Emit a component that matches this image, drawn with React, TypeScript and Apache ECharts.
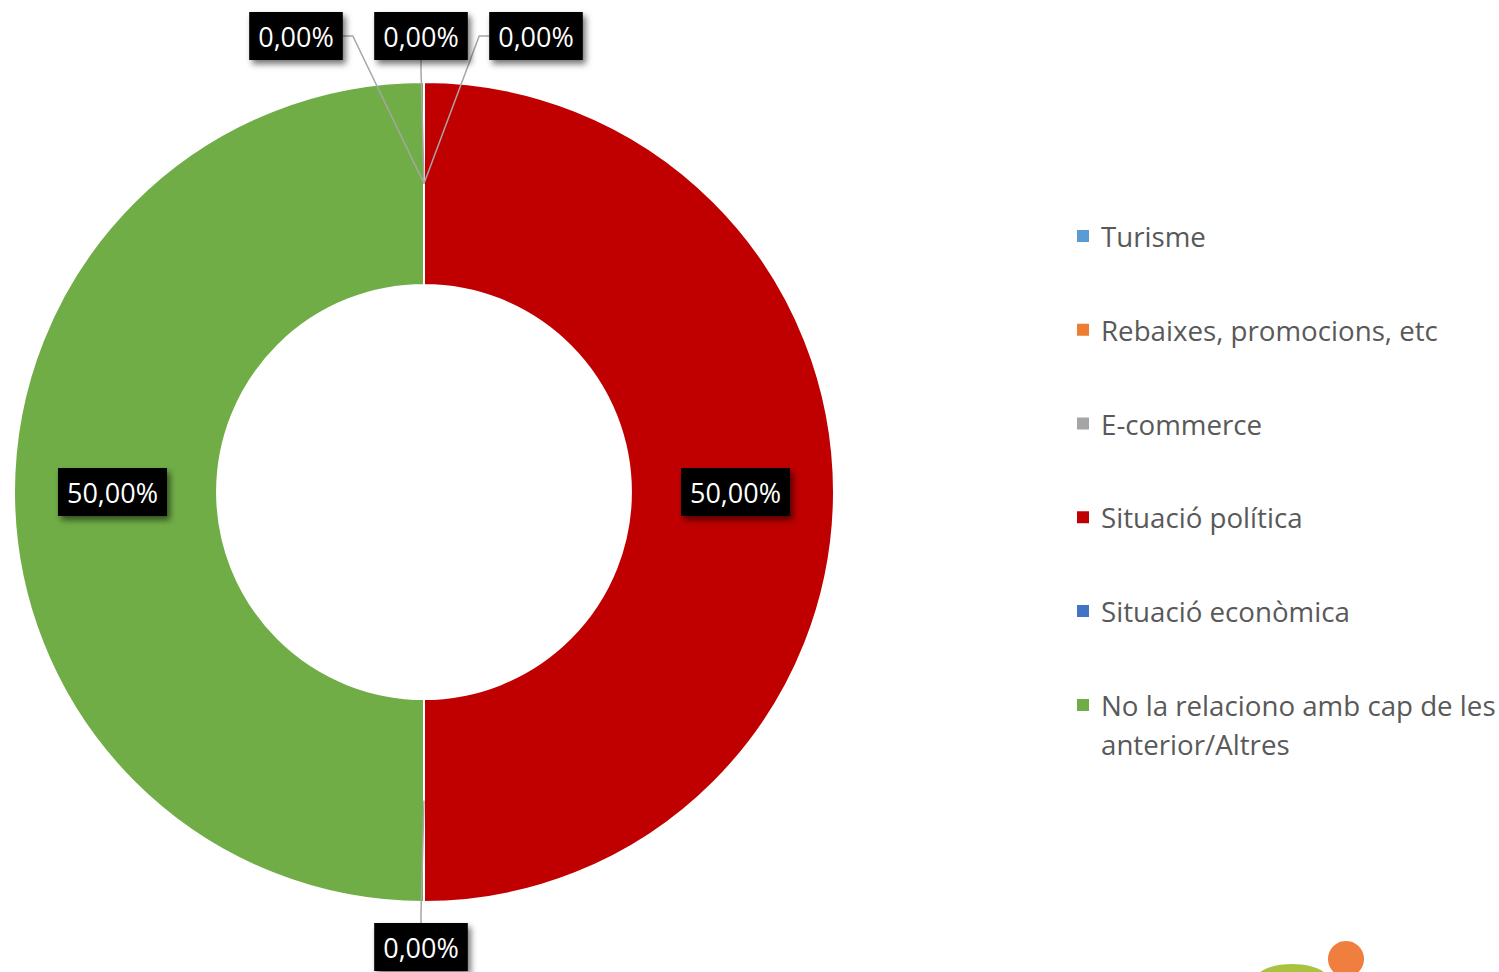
import React, { useEffect, useRef } from 'react';
import * as echarts from 'echarts';

const categories = [
  'Turisme',
  'Rebaixes, promocions, etc',
  'E-commerce',
  'Situació política',
  'Situació econòmica',
  'No la relaciono amb cap de les anterior/Altres',
];
const values = [0, 0, 0, 50, 0, 50];
const colors = ['#5B9BD5', '#ED7D31', '#A5A5A5', '#C00000', '#4472C4', '#70AD47'];
// where the callout boxes of the zero-value slices sit, relative to the pie centre
const calloutOffsets: (number[] | null)[] = [[-3, -456], [-128, -456], [112, -456], null, [-3, 455], null];
const lastLegendText = 'No la relaciono amb cap de les\nanterior/Altres';

const CX = 424;
const CY = 492;
const R_IN = 207;
const R_OUT = 410;
const R_MID = (R_IN + R_OUT) / 2;

const pctFormatter = (p: any) => p.percent.toFixed(2).replace('.', ',') + '%';

const boxLabel = {
  color: '#ffffff',
  fontFamily: 'Open Sans',
  fontSize: 27,
  lineHeight: 34,
  backgroundColor: '#000000',
  padding: [7, 9, 7, 9],
  shadowColor: 'rgba(0,0,0,0.55)',
  shadowBlur: 6,
  shadowOffsetX: 3,
  shadowOffsetY: 4,
};

const legendText = {
  fontFamily: 'Open Sans',
  fontSize: 27.7,
  color: '#595959',
  padding: [0, 0, 0, 7],
};

export default function App() {
  const ref = useRef<HTMLDivElement>(null);
  useEffect(() => {
    if (!ref.current) return;
    const chart = echarts.init(ref.current, undefined, { renderer: 'svg' });
    chart.setOption({
      animation: false,
      backgroundColor: '#ffffff',
      legend: [
        {
          orient: 'vertical',
          left: 1077,
          top: 218,
          padding: 0,
          itemGap: 57.75,
          itemWidth: 12,
          itemHeight: 12,
          icon: 'rect',
          selectedMode: false,
          itemStyle: { borderWidth: 0 },
          data: categories.slice(0, 5),
          textStyle: { ...legendText, lineHeight: 36 },
        },
        {
          orient: 'vertical',
          left: 1077,
          top: 705 - 58.5,
          padding: 0,
          itemWidth: 12,
          itemHeight: 12,
          icon: 'rect',
          selectedMode: false,
          itemStyle: { borderWidth: 0 },
          data: categories.slice(5),
          formatter: () => '\n' + lastLegendText,
          textStyle: { ...legendText, lineHeight: 39 },
        },
      ],
      graphic: [
        { type: 'ellipse', shape: { cx: 1292, cy: 979, rx: 36, ry: 15 }, style: { fill: '#A9C33F' } },
        { type: 'circle', shape: { cx: 1346, cy: 959, r: 18 }, style: { fill: '#F07E3E' } },
      ],
      series: [
        {
          type: 'pie',
          z: 2,
          center: [CX, CY],
          radius: [R_IN, R_OUT],
          startAngle: 90,
          clockwise: true,
          silent: true,
          avoidLabelOverlap: false,
          itemStyle: { borderColor: '#ffffff', borderWidth: 2 },
          label: { show: true, position: 'inside', formatter: pctFormatter, ...boxLabel },
          labelLine: { show: false },
          data: categories.map((name, i) => ({
            name,
            value: values[i],
            itemStyle: { color: colors[i] },
            label: { show: values[i] > 0 },
          })),
        },
        {
          type: 'pie',
          z: 5,
          center: [CX, CY],
          radius: [0, R_MID],
          startAngle: 90,
          clockwise: true,
          silent: true,
          avoidLabelOverlap: false,
          itemStyle: { color: 'rgba(0,0,0,0)', borderWidth: 0 },
          label: { show: true, position: 'outside', formatter: pctFormatter, ...boxLabel },
          labelLine: { show: true, length: 20, length2: 10, lineStyle: { color: '#A6A6A6', width: 1.5 } },
          labelLayout: (p: any) => {
            const off = calloutOffsets[p.dataIndex];
            if (!off) return {};
            return { x: CX + off[0], y: CY + off[1], align: 'center', verticalAlign: 'middle' };
          },
          data: categories.map((name, i) => ({
            name,
            value: values[i],
            label: { show: values[i] === 0 },
            labelLine: { show: values[i] === 0 },
          })),
        },
      ],
    });
    return () => chart.dispose();
  }, []);
  return <div ref={ref} style={{ position: 'fixed', left: 0, top: 0, width: 1499, height: 972 }} />;
}
